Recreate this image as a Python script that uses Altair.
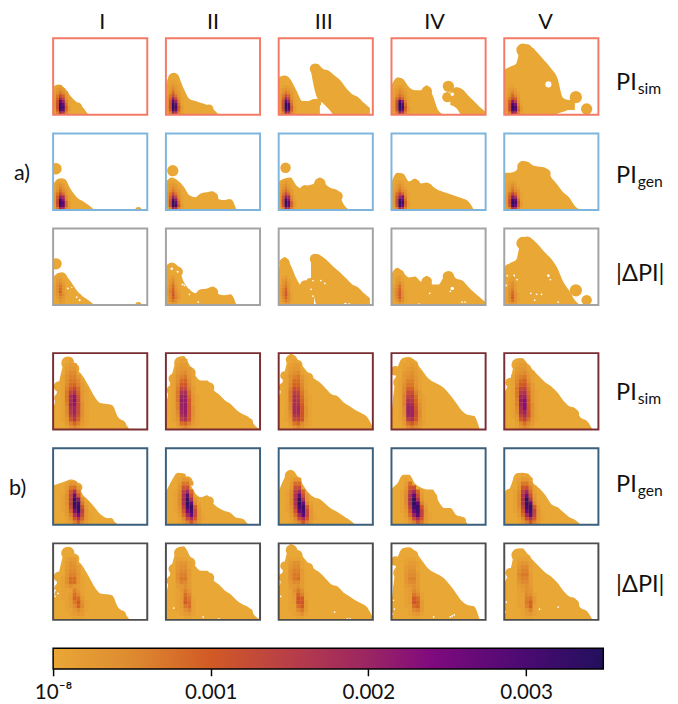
import math
import altair as alt
import pandas as pd

FONT = "Lato"
PANEL_W, PANEL_H = 96, 78
BASE = "#E9A735"
VMAX = 0.00349
COLOR_VALUES = [0, 0.0005, 0.001, 0.0015, 0.002, 0.0024, 0.003, 0.00349]
COLOR_RANGE = ["#E9A735", "#DE8A30", "#D15A25", "#B83E48", "#9B2563", "#800A7E", "#4A0A72", "#22105C"]
BORDERS = ["#F47A66", "#7FB5DC", "#A3A3A3", "#7A2E33", "#3C5F7C", "#4D4D4D"]
COLUMNS = ["I", "II", "III", "IV", "V"]

# Each panel: lobes (start x, tops every 6 units, bottoms), blobs, holes (x, y, r), heat core (cell, x0, rows top to bottom, base-36 in 1e-4)
A_SIM = [
    dict(lobes=[(0, [29, 31, 27, 19, 13, 8, 0], None)], blobs=[(6, 25, 6), (25, 8, 5)], holes=[],
         core=(3, 0, ["012100", "134310", "147520", "27d930", "29ke41", "3bsk61", "3cwr81", "3cxua2", "2auq92", "16if61"])),
    dict(lobes=[(0, [31, 42, 40, 27, 16, 14, 12, 10, 6, 0], None)], blobs=[(8, 37, 6.5), (44, 6, 5)], holes=[],
         core=(3, 0, ["011000", "012100", "124210", "136310", "149420", "27d730", "39ld41", "3bsk61", "3cxr81", "3cxua2", "2auq92", "16if61"])),
    dict(lobes=[(0, [38, 40, 36, 25, 14, 14, 16, 13], None),
                (33, [50, 52, 47, 45, 40, 35, 27, 21, 18, 12, 7], [44, 18, 12, 6, 0, 0, 0, 0, 0, 0, 0])],
         blobs=[(37, 47, 6), (6, 34, 6.5), (77, 12, 6), (39, 12, 5)], holes=[],
         core=(3, 0, ["012100", "134310", "147520", "27d930", "29ke41", "3bsk61", "3cxu81", "3cxva2", "2auq92", "16if61"])),
    dict(lobes=[(0, [30, 38, 36, 28, 25, 25, 30, 20, 4, 0], None),
                (60, [25, 28, 26, 20, 14, 8, 3], [10, 7, 0, 0, 0, 0, 0])],
         blobs=[(58, 29, 6.5), (57, 18, 6), (36, 24, 6), (8, 32, 6.5), (70, 21, 6)], holes=[(62, 21, 2)],
         core=(3, 1, ["012100", "124310", "136420", "158630", "28e941", "3bul61", "3cyr81", "3cxva2", "2auq92", "16if61"])),
    dict(lobes=[(0, [46, 49, 52, 72, 72, 67, 61, 54, 47, 38, 17, 15, 15],
                 [0, 0, 0, 0, 0, 0, 0, 0, 0, 1, 3, 5, 5])],
         blobs=[(73, 18, 7), (84, 6, 6.5), (19, 66, 7.5), (26, 63, 7), (5, 41, 6)], holes=[(45, 31, 3.5)],
         core=(3, 1, ["011000", "123200", "136310", "149520", "27da30", "3amf41", "3cvn61", "3dxt82", "3cvs92", "16jg61"])),
]
A_GEN = [
    dict(lobes=[(0, [26, 32, 31, 21, 13, 9, 5, 0], None)], blobs=[(3, 42, 6.5), (87, 0, 3.5), (9, 27, 6)], holes=[],
         core=(3, 0, ["011000", "124200", "136310", "148520", "27d830", "3ali51", "3cum61", "3dxs92", "2bvr92", "17jh62"])),
    dict(lobes=[(0, [29, 33, 30, 24, 15, 13, 17, 18, 19, 11, 10, 11, 0], None)],
         blobs=[(7, 40, 6.5), (48, 13, 6), (64, 6, 5.5), (36, 11, 5.5)], holes=[],
         core=(3, 0, ["011000", "123200", "135310", "147420", "27c730", "39kd41", "3btl61", "3cxq81", "2cxua2", "16jg61"])),
    dict(lobes=[(0, [29, 32, 33, 25, 22, 25, 27, 33, 26, 22, 20, 6, 0], None)],
         blobs=[(7, 43, 6), (42, 27, 6.5), (8, 26, 6), (27, 20, 6), (60, 14, 6)], holes=[],
         core=(3, 0, ["012100", "124200", "136310", "158520", "27d830", "3ali51", "3cum61", "3cxs92", "2bvr92", "16jg61"])),
    dict(lobes=[(0, [28, 38, 37, 29, 32, 27, 28, 24, 20, 18, 16, 14, 12, 9, 0], None)],
         blobs=[(8, 32, 6.5), (24, 26, 6), (37, 22, 6)], holes=[],
         core=(3, 1, ["012100", "124200", "136310", "148530", "28e941", "3ako61", "3cur81", "3cxva2", "2bvr92", "16if61"])),
    dict(lobes=[(0, [38, 38, 40, 50, 49, 45, 44, 43, 33, 26, 18, 13, 4, 0], None)],
         blobs=[(19, 44, 6.5), (42, 37, 6)], holes=[],
         core=(3, 1, ["012100", "124200", "136310", "148530", "28e941", "3amh51", "3cvq81", "3dxua2", "2bvr92", "16if61"])),
]
A_DELTA = [
    dict(lobes=[(0, [28, 33, 31, 24, 15, 9, 5, 0], None)], blobs=[(3, 42, 6.5), (87, 0, 3.5), (9, 28, 6)],
         holes=[(15, 17, 1), (27, 5, 1.2), (19, 18, 0.8), (24, 8, 1)],
         core=(3, 0, ["011000", "023100", "035200", "147300", "148300", "149310", "137410", "025300", "013200", "002100"])),
    dict(lobes=[(0, [40, 43, 40, 24, 16, 12, 16, 17, 19, 11, 10, 11, 0], None)],
         blobs=[(6, 38, 6), (12, 34, 6), (48, 13, 6), (64, 5, 5.5), (36, 11, 5.5)],
         holes=[(6, 37, 1.5), (12, 34, 1.2), (17, 21, 1.2), (19, 20, 1), (24, 11, 1), (33, 3, 1), (23, 18, 1)],
         core=(3, 0, ["012000", "024100", "036100", "148200", "259310", "26a410", "25b520", "15a620", "147410", "013200"])),
    dict(lobes=[(0, [36, 49, 41, 27, 19, 27, 28], None),
                (33, [50, 52, 49, 44, 38, 33, 27, 21, 18, 12, 7], [28, 0, 0, 0, 0, 0, 0, 0, 0, 0, 0])],
         blobs=[(6, 43, 6), (37, 47, 6), (77, 12, 6), (27, 20, 6)],
         holes=[(35, 25, 1), (43, 25, 1), (47, 22, 1), (33, 16, 1), (35, 9, 1), (68, 1, 1.5), (72, 0, 2)],
         core=(3, 0, ["012000", "024100", "036200", "147300", "259300", "26a410", "26b510", "159510", "137410", "013200"])),
    dict(lobes=[(0, [32, 38, 33, 28, 29, 24, 30, 21, 21, 30, 34, 27, 25, 19, 13, 8, 3], None)],
         blobs=[(8, 31, 6), (24, 22, 6), (36, 24, 6), (58, 29, 6.5), (70, 20, 6)],
         holes=[(39, 12, 1), (62, 17, 2), (60, 14, 1), (72, 3, 1), (75, 3, 1), (28, 1, 1)],
         core=(3, 1, ["012000", "023100", "035200", "148300", "259300", "26a410", "26b410", "15a510", "137410", "013200"])),
    dict(lobes=[(0, [38, 43, 46, 68, 70, 66, 60, 53, 47, 38, 24, 15, 5, 0], None)],
         blobs=[(73, 15, 7), (84, 5, 6), (19, 63, 7.5), (26, 60, 7), (5, 37, 5.5)],
         holes=[(3, 30, 1), (10, 30, 1.2), (13, 26, 1), (45, 30, 1.5), (47, 26, 1), (27, 12, 1), (33, 11, 1), (38, 11, 1), (31, 5, 1), (55, 3, 1), (2, 20, 1)],
         core=(3, 1, ["001000", "012000", "024100", "035200", "146200", "148300", "159410", "15a410", "148410", "023200"])),
]
B_SIM_TOPS = [
    [18, 48, 70, 74, 62, 55, 45, 34, 27, 26, 25, 13, 8, 0],
    [22, 55, 72, 75, 66, 55, 50, 50, 41, 36, 30, 26, 20, 16, 13, 5, 0],
    [28, 58, 77, 73, 65, 58, 52, 48, 42, 36, 34, 28, 24, 20, 17, 13, 2],
    [15, 62, 73, 74, 70, 62, 54, 49, 46, 42, 35, 27, 19, 15, 14, 0],
    [38, 50, 72, 73, 67, 60, 54, 48, 44, 38, 30, 24, 22, 12, 9, 0],
]
B_SIM_BLOBS = [
    [(15, 68, 7.5), (6, 44, 6), (21, 62, 6.5), (58, 19, 5.5), (70, 5, 5), (6, 32, 5.5), (5, 22, 5)],
    [(15, 68, 7.5), (8, 52, 6), (44, 43, 6), (24, 58, 7), (84, 7, 5.5), (6, 40, 6), (5, 28, 5.5)],
    [(13, 71, 6.5), (6, 55, 5), (19, 66, 6), (30, 53, 6), (87, 7, 6), (5, 43, 5.5), (4, 32, 5)],
    [(15, 67, 7.5), (4, 60, 5.5), (22, 66, 6), (80, 9, 6), (8, 48, 7), (7, 32, 6), (6, 20, 5)],
    [(14, 66, 7.5), (6, 48, 5.5), (22, 62, 6), (71, 16, 6), (82, 4, 5)],
]
B_GEN_TOPS = [
    [40, 42, 44, 46, 44, 31, 25, 18, 11, 7, 5, 0],
    [33, 45, 53, 52, 43, 32, 28, 30, 22, 17, 14, 12, 7, 6, 0],
    [34, 48, 56, 51, 42, 33, 28, 26, 21, 16, 13, 9, 5, 0],
    [37, 42, 51, 51, 42, 38, 36, 36, 24, 17, 17, 10, 8, 0],
    [30, 38, 52, 53, 52, 42, 37, 30, 21, 18, 13, 8, 5, 0],
]
B_GEN_BLOBS = [
    [(20, 40, 6), (25, 38, 5.5), (8, 36, 5), (58, 3, 4.5)],
    [(15, 47, 6.5), (44, 24, 5.5), (22, 44, 6), (74, 3, 4)],
    [(12, 50, 6.5), (5, 30, 5), (18, 44, 6), (68, 3, 4)],
    [(14, 45, 6.5), (5, 32, 5), (42, 28, 5.5), (30, 32, 5), (72, 4, 4.5)],
    [(15, 47, 6.5), (5, 32, 5), (23, 46, 6), (67, 3, 4)],
]
B_SIM_CORES = [
    (4, 8, ["00110000", "01221000", "02332000", "03553100", "14663100", "14775100", "15896200", "16ad8210", "17eh9310", "17imb310", "17inc310", "16jmc410", "15hkc410", "15gkc410", "14eib410", "13bg9310", "02696210", "01353100"]),
    (4, 6, ["00110000", "01221000", "02332000", "03452100", "14673100", "14894100", "15ab5100", "16dd6200", "17hi8200", "17kk9310", "17llb310", "16klb310", "16klb410", "15jlb410", "14hkb410", "13ehb310", "02896210", "01353100"]),
    (4, 6, ["00110000", "01221000", "02331000", "03451100", "14673100", "14884100", "15995100", "16cb6100", "17fe7200", "17hg8210", "17ih9310", "16iia310", "16ijb410", "15ijb410", "14ghb410", "13deb310", "02795210", "01353100"]),
    (4, 7, ["00110000", "01121000", "01232000", "02342100", "03453100", "13663100", "14773100", "15994100", "15cc6200", "16ef8210", "16hg9310", "16jia410", "15kkb410", "15kkc510", "14jkc510", "13fhb410", "028a7310", "01464200"]),
    (4, 7, ["00110000", "01221000", "02331000", "03452100", "14673100", "15894100", "16ab6200", "17de7200", "17gh8310", "17jk9310", "16lna310", "16kna410", "15ina410", "14hkb410", "13eib410", "02ae8310", "01585200", "01353100"]),
]
B_GEN_CORES = [
    (4, 8, ["00010000", "01331000", "02783000", "03bh6100", "14dqa200", "14ewm400", "14exu710", "13cuxb20", "139owe30", "026hoc31", "014bh931", "0126a520"]),
    (4, 8, ["00110000", "01331000", "02772000", "03bc5100", "14fj8100", "15hsb200", "15ixh300", "15hyr510", "14euxa20", "13bpvd30", "028jrd31", "015cha31", "0136b620"]),
    (4, 7, ["00110000", "01332000", "02884100", "03cd6100", "14fj9100", "15hrc200", "15ixh300", "15hyq510", "14euwa20", "13bqvd30", "028jsd31", "015cha31", "0136b620"]),
    (4, 9, ["00110000", "01332000", "02884100", "03bc6100", "14ej9100", "15hrc200", "15ixh300", "15hyr610", "14evwb20", "13bqve30", "028kse31", "015cib31", "0136b720"]),
    (4, 9, ["00110000", "01331000", "02773000", "03bc6100", "14fj8100", "15hpb200", "15ixg300", "15hxr510", "14evwa20", "13bqve30", "028jsd31", "015cha31", "0136b620"]),
]
B_DELTA_CORES = [
    (4, 8, ["0122100", "0243100", "0244200", "0355200", "0366300", "1488310", "1488310", "1243210", "1116310", "1128510", "1139820", "0127a41", "0125951", "0113531", "0012320", "0001110"]),
    (4, 6, ["0111000", "0233100", "0344100", "0355200", "0466200", "0477200", "0365200", "0234200", "0136300", "0128500", "0129710", "012a810", "0127810", "0114610", "0012310", "0001100"]),
    (4, 6, ["0111000", "0244100", "0355100", "0466200", "0477200", "0478200", "0355200", "0234200", "0147400", "0139610", "012ba10", "012bb20", "0118a20", "0115720", "0012410", "0001100"]),
    (4, 9, ["0111000", "0122100", "0233100", "0244100", "0355200", "0366200", "0355200", "0234200", "0125300", "0127510", "012a810", "012b920", "0118920", "0015620", "0012310", "0001100"]),
    (4, 9, ["0111000", "0233100", "0355100", "0466100", "0577200", "0466200", "0355200", "0234200", "0124300", "0115410", "0116720", "0117920", "0116910", "0013610", "0012310", "0001100"]),
]
B_DELTA_HOLES = [
    [(2, 30, 1), (5, 27, 1), (2, 24, 1)],
    [(8, 12, 1), (38, 3, 1), (54, 1, 1), (19, 3, 1)],
    [(57, 8, 1), (70, 1, 1), (73, 1, 1), (2, 24, 1)],
    [(2, 20, 1), (3, 11, 1), (43, 3, 1), (60, 3, 1), (62, 4, 1), (64, 5, 1), (1, 6, 1)],
    [(2, 18, 1), (36, 11, 1), (55, 13, 1), (1, 8, 1)],
]
A_BLOCKS = [A_SIM, A_GEN, A_DELTA]
B_BLOCKS = [
    [dict(lobes=[(0, t, None)], blobs=b, holes=[], core=c) for t, b, c in zip(B_SIM_TOPS, B_SIM_BLOBS, B_SIM_CORES)],
    [dict(lobes=[(0, t, None)], blobs=b, holes=[], core=c) for t, b, c in zip(B_GEN_TOPS, B_GEN_BLOBS, B_GEN_CORES)],
    [dict(lobes=[(0, t, None)], blobs=b, holes=h, core=c) for t, b, c, h in zip(B_SIM_TOPS, B_SIM_BLOBS, B_DELTA_CORES, B_DELTA_HOLES)],
]

X = alt.X("x:Q", scale=alt.Scale(domain=[0, PANEL_W], nice=False, zero=False), axis=None)
Y = alt.Y("y:Q", scale=alt.Scale(domain=[0, PANEL_H], nice=False, zero=False), axis=None)


def circles(items, color):
    df = pd.DataFrame([{"x": x, "y": y, "s": math.pi * r * r} for x, y, r in items])
    return alt.Chart(df).mark_circle(opacity=1, clip=True, color=color).encode(
        x=X, y=Y, size=alt.Size("s:Q", scale=None, legend=None))


def inside(spec, x, y):
    """Is a point under the drawn outline of the panel, so a heat cell never pokes out of it?"""
    for x0, tops, bots in spec["lobes"]:
        j = (x - x0) / 6
        if 0 <= j <= len(tops) - 1:
            a = int(j)
            b = min(a + 1, len(tops) - 1)
            top = tops[a] + (tops[b] - tops[a]) * (j - a)
            if y <= top:
                return True
    return any((x - bx) ** 2 + (y - by) ** 2 <= r * r for bx, by, r in spec["blobs"])


def panel(spec, border):
    area_rows = []
    for i, (x0, tops, bots) in enumerate(spec["lobes"]):
        for j, t in enumerate(tops):
            area_rows.append({"x": x0 + 6 * j, "y": t, "y0": bots[j] if bots else 0, "lobe": i})
    layers = [alt.Chart(pd.DataFrame(area_rows)).mark_area(
        interpolate="monotone", clip=True, color=BASE, opacity=1
    ).encode(x=X, y=Y, y2=alt.Y2("y0:Q"), detail="lobe:N")]
    if spec["blobs"]:
        layers.append(circles(spec["blobs"], BASE))
    if spec["holes"]:
        layers.append(circles(spec["holes"], "white"))
    cell, x0, rows = spec["core"]
    heat = []
    for r, row in enumerate(rows):
        h = (len(rows) - 1 - r) * cell
        for c, ch in enumerate(row):
            v = int(ch, 36)
            cx = x0 + c * cell
            if v and inside(spec, cx + 0.5, h + cell - 0.5) and inside(spec, cx + cell - 0.5, h + cell - 0.5):
                heat.append({"x": cx, "x1": cx + cell, "y": h, "y1": h + cell, "v": v * 1e-4})
    layers.append(alt.Chart(pd.DataFrame(heat)).mark_rect(clip=True).encode(
        x=X, x2="x1:Q", y=Y, y2="y1:Q",
        color=alt.Color("v:Q", legend=None, scale=alt.Scale(domain=COLOR_VALUES, range=COLOR_RANGE))))
    layers.append(alt.Chart(pd.DataFrame({"k": [0]})).mark_rect(
        filled=False, stroke=border, strokeWidth=2, opacity=1
    ).encode(x=alt.value(0), x2=alt.value(PANEL_W), y=alt.value(0), y2=alt.value(PANEL_H)))
    return alt.layer(*layers).properties(width=PANEL_W, height=PANEL_H)


def text_chart(items, width, height):
    df = pd.DataFrame([{"t": t, "x": x, "y": y, "s": s} for t, x, y, s in items])
    return alt.Chart(df).mark_text(font=FONT, align="left", baseline="alphabetic", color="#111111").encode(
        x=alt.X("x:Q", scale=None, axis=None), y=alt.Y("y:Q", scale=None, axis=None),
        size=alt.Size("s:Q", scale=None, legend=None), text="t:N"
    ).properties(width=width, height=height)


def right_label(kind, base):
    if kind == 2:
        return text_chart([("|ΔPI|", 3, base, 24)], 58, PANEL_H)
    sub = "sim" if kind == 0 else "gen"
    return text_chart([("PI", 3, base, 24), (sub, 25, base + 4, 16)], 58, PANEL_H)


def block(specs, first_border, left_text, left_x, baselines):
    rows = []
    for k, row in enumerate(specs):
        left = text_chart([(left_text if k == 1 else "", left_x, 48, 22)], 28, PANEL_H)
        panels = [panel(s, BORDERS[first_border + k]) for s in row]
        inner = alt.hconcat(left, *panels, spacing=17)
        rows.append(alt.hconcat(inner, right_label(k, baselines[k]), spacing=14))
    return alt.vconcat(*rows, spacing=17)


header = alt.hconcat(
    text_chart([("", 0, 22, 22)], 28, 30),
    *[alt.Chart(pd.DataFrame({"t": [c]})).mark_text(
        font=FONT, fontSize=22, align="center", baseline="alphabetic", color="#111111"
    ).encode(x=alt.value(51), y=alt.value(22), text="t:N").properties(width=PANEL_W, height=30) for c in COLUMNS],
    spacing=17,
)

stops = [alt.GradientStop(color=c, offset=v / VMAX) for c, v in zip(COLOR_RANGE, COLOR_VALUES)]
bar = alt.Chart(pd.DataFrame({"a": [0.0], "b": [VMAX]})).mark_rect(
    color=alt.Gradient(gradient="linear", stops=stops, x1=0, x2=1, y1=0, y2=0),
    stroke="black", strokeWidth=1.5,
).encode(
    x=alt.X("a:Q", scale=alt.Scale(domain=[0, VMAX], nice=False, zero=False), axis=alt.Axis(
        values=[0, 0.001, 0.002, 0.003], title=None, domain=False, grid=False, labelFont=FONT,
        labelFontSize=21, labelColor="#111111", tickColor="black", tickSize=7, tickWidth=1.5,
        labelPadding=6, labelFlush=False, labelOverlap=False,
        labelExpr="datum.value === 0 ? '10⁻⁸' : format(datum.value, '.3f')")),
    x2="b:Q",
).properties(width=561, height=21)
colorbar = alt.hconcat(text_chart([("", 0, 10, 22)], 26, 21), bar, spacing=0)

body = alt.vconcat(
    alt.vconcat(
        block(A_BLOCKS, 0, "a)", 6, [53, 51, 53]),
        block(B_BLOCKS, 3, "b)", 1, [48, 45, 50]),
        spacing=47,
    ),
    colorbar,
    spacing=20,
)
chart = alt.vconcat(header, body, spacing=0).properties(
    padding={"left": 0, "top": -7, "right": 0, "bottom": 0}
).configure_view(strokeWidth=0)
chart.save("out.html", embed_options={"renderer": "svg", "actions": False})
